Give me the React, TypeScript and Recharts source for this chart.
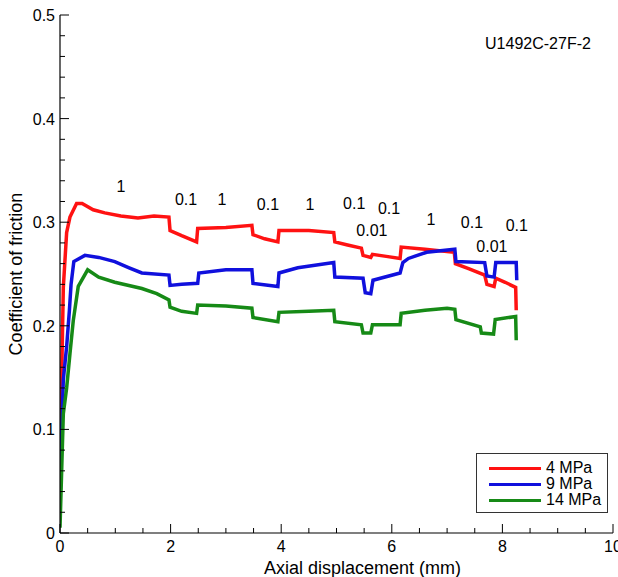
import React from 'react';
import { LineChart, Line, XAxis, YAxis, ReferenceDot, Legend } from 'recharts';

const FONT = '"Liberation Sans", Arial, Helvetica, sans-serif';

// friction vs axial displacement, one list of [mm, mu] per normal stress
const red4MPa: [number, number][] = [
  [0, 0.09], [0.03, 0.15], [0.06, 0.237], [0.12, 0.29], [0.18, 0.305], [0.3, 0.318], [0.4, 0.318],
  [0.6, 0.312], [0.81, 0.309], [1.1, 0.306], [1.41, 0.304], [1.7, 0.306], [1.97, 0.305], [1.99, 0.292],
  [2.2, 0.287], [2.47, 0.281], [2.49, 0.294], [3.0, 0.295], [3.47, 0.297], [3.49, 0.288], [3.7, 0.284],
  [3.94, 0.281], [3.96, 0.292], [4.5, 0.292], [4.95, 0.29], [4.97, 0.281], [5.2, 0.278], [5.45, 0.275],
  [5.48, 0.268], [5.62, 0.266], [5.65, 0.269], [5.9, 0.267], [6.15, 0.265], [6.17, 0.276], [6.6, 0.274],
  [7.13, 0.271], [7.15, 0.26], [7.4, 0.255], [7.68, 0.249], [7.72, 0.24], [7.85, 0.238], [7.88, 0.246],
  [8.05, 0.242], [8.24, 0.237], [8.25, 0.215],
];
const blue9MPa: [number, number][] = [
  [0, 0.03], [0.03, 0.1], [0.06, 0.148], [0.12, 0.18], [0.17, 0.215], [0.2, 0.24], [0.25, 0.262],
  [0.45, 0.268], [0.7, 0.266], [0.99, 0.262], [1.25, 0.256], [1.48, 0.251], [1.97, 0.249], [1.99, 0.239],
  [2.2, 0.24], [2.49, 0.241], [2.51, 0.251], [3.0, 0.254], [3.47, 0.254], [3.49, 0.241], [3.94, 0.238],
  [3.96, 0.251], [4.3, 0.256], [4.95, 0.261], [4.97, 0.247], [5.48, 0.246], [5.52, 0.232], [5.62, 0.231],
  [5.66, 0.244], [6.15, 0.251], [6.2, 0.261], [6.3, 0.265], [6.63, 0.271], [7.14, 0.274], [7.16, 0.262],
  [7.68, 0.261], [7.72, 0.248], [7.85, 0.247], [7.88, 0.261], [8.25, 0.261], [8.26, 0.244],
];
const green14MPa: [number, number][] = [
  [0, 0.005], [0.03, 0.06], [0.06, 0.115], [0.12, 0.14], [0.18, 0.173], [0.24, 0.205], [0.33, 0.238],
  [0.5, 0.254], [0.7, 0.247], [0.99, 0.242], [1.48, 0.236], [1.75, 0.231], [1.97, 0.225], [1.99, 0.218],
  [2.2, 0.214], [2.47, 0.212], [2.49, 0.22], [3.0, 0.219], [3.47, 0.217], [3.49, 0.208], [3.94, 0.204],
  [3.96, 0.213], [4.5, 0.214], [4.95, 0.215], [4.97, 0.204], [5.45, 0.201], [5.48, 0.193], [5.62, 0.193],
  [5.65, 0.201], [6.15, 0.201], [6.17, 0.212], [6.6, 0.215], [7.0, 0.217], [7.14, 0.216], [7.16, 0.206],
  [7.6, 0.199], [7.62, 0.193], [7.84, 0.192], [7.87, 0.206], [8.24, 0.209], [8.25, 0.186],
];

// velocity step labels (um/s)
const rateLabels = ['1', '0.1', '1', '0.1', '1', '0.1', '0.1', '0.01', '1', '0.1', '0.01', '0.1'];
const rateX = [1.1, 2.28, 2.93, 3.76, 4.52, 5.32, 5.95, 5.64, 6.71, 7.45, 7.81, 8.26];
const rateY = [0.335, 0.322, 0.322, 0.317, 0.317, 0.318, 0.313, 0.292, 0.303, 0.3, 0.277, 0.297];

const xTicks = Array.from({ length: 21 }, (_, i) => i * 0.5);
const yTicks = Array.from({ length: 26 }, (_, i) => +(i * 0.02).toFixed(2));

const series = [
  { name: '4 MPa', color: '#ff1212', data: red4MPa },
  { name: '9 MPa', color: '#1010dd', data: blue9MPa },
  { name: '14 MPa', color: '#168a16', data: green14MPa },
];

const toPts = (arr: [number, number][]) => arr.map(([x, y]) => ({ x, y }));

const isMajorX = (v: number) => Math.abs(v / 2 - Math.round(v / 2)) < 1e-6;
const isMajorY = (v: number) => Math.abs(v * 10 - Math.round(v * 10)) < 1e-6;

const TickMark = (props: any) => {
  const { x, y, payload, side } = props;
  const v = payload.value;
  const major = side === 'bottom' || side === 'top' ? isMajorX(v) : isMajorY(v);
  const len = major ? 9 : 5;
  if (side === 'bottom') {
    return (
      <g>
        <line x1={x} y1={y} x2={x} y2={y - len} stroke="#000" strokeWidth={1} />
        {major && (
          <text x={x} y={y + 19} textAnchor="middle" fontSize={16} fontFamily={FONT} fill="#000">
            {v}
          </text>
        )}
      </g>
    );
  }
  if (side === 'top') return <line x1={x} y1={y} x2={x} y2={y + len} stroke="#000" strokeWidth={1} />;
  if (side === 'right') return <line x1={x} y1={y} x2={x - len} y2={y} stroke="#000" strokeWidth={1} />;
  return (
    <g>
      <line x1={x} y1={y} x2={x + len} y2={y} stroke="#000" strokeWidth={1} />
      {major && (
        <text x={x - 5} y={y + 6} textAnchor="end" fontSize={16} fontFamily={FONT} fill="#000">
          {v}
        </text>
      )}
    </g>
  );
};

const LegendBox = () => (
  <div
    style={{
      width: 132,
      height: 60,
      border: '1px solid #333',
      background: '#fff',
      boxSizing: 'border-box',
      fontFamily: FONT,
      fontSize: 16,
      paddingTop: 6,
    }}
  >
    {series.map((s) => (
      <div key={s.name} style={{ display: 'flex', alignItems: 'center', height: 16 }}>
        <div style={{ marginLeft: 12, width: 52, height: 3, background: s.color }} />
        <span style={{ marginLeft: 5, color: '#000' }}>{s.name}</span>
      </div>
    ))}
  </div>
);

export default function App() {
  return (
    <div style={{ position: 'absolute', left: 0, top: 0, background: '#fff' }}>
      <LineChart width={618} height={577} margin={{ top: 15, right: 5, left: 0, bottom: 0 }}>
        <XAxis
          xAxisId="b"
          type="number"
          dataKey="x"
          domain={[0, 10]}
          ticks={xTicks}
          interval={0}
          height={44}
          tickSize={0}
          tickMargin={0}
          tickLine={false}
          axisLine={{ stroke: '#000', strokeWidth: 1.2 }}
          tick={<TickMark side="bottom" />}
          allowDataOverflow
          label={{
            content: ({ viewBox }: any) => (
              <text x={viewBox.x + viewBox.width / 2 + 26} y={viewBox.y + 41} textAnchor="middle" fontSize={18} fontFamily={FONT} fill="#000">
                Axial displacement (mm)
              </text>
            ),
          }}
        />
        <XAxis
          xAxisId="t"
          orientation="top"
          type="number"
          dataKey="x"
          domain={[0, 10]}
          ticks={xTicks}
          interval={0}
          height={0}
          tickSize={0}
          tickMargin={0}
          tickLine={false}
          axisLine={{ stroke: '#000', strokeWidth: 1.2 }}
          tick={<TickMark side="top" />}
        />
        <YAxis
          yAxisId="l"
          type="number"
          domain={[0, 0.5]}
          ticks={yTicks}
          interval={0}
          width={60}
          tickSize={0}
          tickMargin={0}
          tickLine={false}
          axisLine={{ stroke: '#000', strokeWidth: 1.2 }}
          tick={<TickMark side="left" />}
          allowDataOverflow
          label={{
            content: ({ viewBox }: any) => {
              const cx = viewBox.x + 16;
              const cy = viewBox.y + viewBox.height / 2;
              return (
                <text x={cx} y={cy} transform={`rotate(-90 ${cx} ${cy})`} textAnchor="middle" dominantBaseline="central" fontSize={18} fontFamily={FONT} fill="#000">
                  Coefficient of friction
                </text>
              );
            },
          }}
        />
        <YAxis
          yAxisId="r"
          orientation="right"
          type="number"
          domain={[0, 0.5]}
          ticks={yTicks}
          interval={0}
          width={0}
          tickSize={0}
          tickMargin={0}
          tickLine={false}
          axisLine={{ stroke: '#000', strokeWidth: 1.2 }}
          tick={<TickMark side="right" />}
        />
        {series.map((s) => (
          <Line
            key={s.name}
            xAxisId="b"
            yAxisId="l"
            name={s.name}
            data={toPts(s.data)}
            dataKey="y"
            type="linear"
            stroke={s.color}
            strokeWidth={3.5}
            dot={false}
            isAnimationActive={false}
          />
        ))}
        {rateLabels.map((t, i) => (
          <ReferenceDot
            key={i}
            xAxisId="b"
            yAxisId="l"
            x={rateX[i]}
            y={rateY[i]}
            r={0}
            stroke="none"
            fill="none"
            label={{ value: t, position: 'center', fontSize: 16, fontFamily: FONT, fill: '#000' }}
          />
        ))}
        <ReferenceDot
          xAxisId="b"
          yAxisId="l"
          x={9.6}
          y={0.473}
          r={0}
          stroke="none"
          fill="none"
          label={{ value: 'U1492C-27F-2', position: 'left', offset: 0, fontSize: 16, fontFamily: FONT, fill: '#000' }}
        />
        <Legend
          layout="horizontal"
          verticalAlign="middle"
          align="center"
          content={() => <LegendBox />}
          wrapperStyle={{ left: 476, top: 453, width: 132, height: 60 }}
        />
      </LineChart>
    </div>
  );
}
